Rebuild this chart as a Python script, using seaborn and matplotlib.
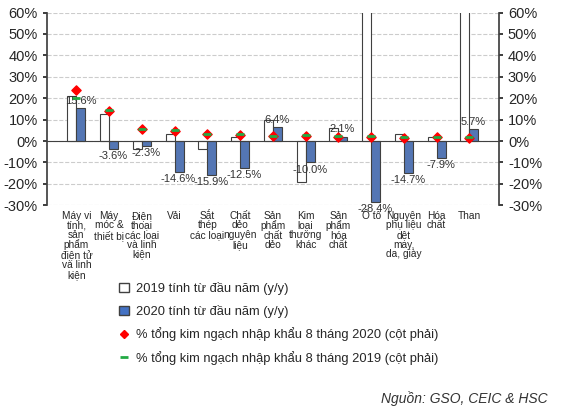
import matplotlib
matplotlib.use("Agg")
import matplotlib.pyplot as plt
import seaborn as sns
import pandas as pd
import numpy as np

sns.set_theme(style="white")
plt.rcParams['font.family'] = ['Liberation Sans', 'DejaVu Sans']

categories = ["Máy vi\ntính,\nsản\nphẩm\nđiện tử\nvà linh\nkiện", "Máy\nmóc &\nthiết bị",
              "Điện\nthoại\ncác loại\nvà linh\nkiện", "Vải", "Sắt\nthép\ncác loại",
              "Chất\ndẻo\nnguyên\nliệu", "Sản\nphẩm\nchất\ndẻo", "Kim\nloại\nthường\nkhác",
              "Sản\nphẩm\nhóa\nchất", "Ô tô", "Nguyên\nphụ liệu\ndệt\nmay,\nda, giày",
              "Hóa\nchất", "Than"]
ytd2019 = [21, 12.5, -3.5, 3.5, -3.5, 2, 10, -19, 6, 80, 3.5, 2, 100]
ytd2020 = [15.6, -3.6, -2.3, -14.6, -15.9, -12.5, 6.4, -10.0, 2.1, -28.4, -14.7, -7.9, 5.7]
share2020 = [24, 14, 5.5, 4.5, 3.5, 3, 2.5, 2.5, 2, 2, 1.5, 2, 1.5]
share2019 = [20, 14.5, 5.5, 5, 3.5, 3.5, 2.5, 3, 2.5, 2.5, 2, 2, 2]

lbl19 = "2019 tính từ đầu năm (y/y)"
lbl20 = "2020 tính từ đầu năm (y/y)"
df = pd.DataFrame({"cat": categories * 2, "val": ytd2019 + ytd2020,
                   "series": [lbl19] * 13 + [lbl20] * 13})

fig = plt.figure(figsize=(5.65, 4.19), dpi=100)
ax = fig.add_axes([0.083, 0.51, 0.8, 0.46])
sns.barplot(data=df, x="cat", y="val", hue="series", palette=["white", "#4472C4"],
            edgecolor="#404040", linewidth=0.8, width=0.55, ax=ax, legend=False)
ax.set_ylim(-30, 60)
ax.set_yticks(range(-30, 61, 10))
ax.yaxis.set_major_formatter(matplotlib.ticker.FuncFormatter(lambda v, p: f"{int(v)}%"))
ax.grid(axis="y", linestyle="--", color="#cccccc", linewidth=0.8)
ax.set_axisbelow(True)
ax.axhline(0, color="#404040", linewidth=0.8)
ax.set_xlabel(""); ax.set_ylabel("")
ax.tick_params(axis="x", labelsize=7.3, length=0, pad=4)
for t in ax.get_xticklabels():
    t.set_linespacing(0.95)
ax.tick_params(axis="y", labelsize=10.5, left=True, length=3)
for s in ["top", "bottom", "right"]:
    ax.spines[s].set_visible(False)
ax.spines["left"].set_color("#404040")

ax2 = ax.twinx()
ax2.set_ylim(-30, 60)
ax2.set_yticks(range(-30, 61, 10))
ax2.yaxis.set_major_formatter(matplotlib.ticker.FuncFormatter(lambda v, p: f"{int(v)}%"))
ax2.tick_params(axis="y", labelsize=10.5, right=True, length=3)
for s in ["top", "bottom", "left"]:
    ax2.spines[s].set_visible(False)
ax2.spines["right"].set_color("#404040")
x = np.arange(len(categories))
ax2.scatter(x, share2020, marker="D", color="red", s=22, zorder=5)
ax2.scatter(x, share2019, marker="_", color="#22aa44", s=40, linewidths=2, zorder=6)

for i, v in enumerate(ytd2020):
    y = v + 1 if v > 0 else v - 1
    ax.text(i + 0.12, y, f"{v:.1f}%", ha="center", va="bottom" if v > 0 else "top",
            fontsize=8, color="#333333")

from matplotlib.patches import Patch
from matplotlib.lines import Line2D
handles = [Patch(facecolor="white", edgecolor="#404040", label=lbl19),
           Patch(facecolor="#4472C4", edgecolor="#404040", label=lbl20),
           Line2D([], [], marker="D", color="red", linestyle="none", markersize=4,
                  label="% tổng kim ngạch nhập khẩu 8 tháng 2020 (cột phải)"),
           Line2D([], [], marker="_", color="#22aa44", linestyle="none", markersize=6,
                  markeredgewidth=2, label="% tổng kim ngạch nhập khẩu 8 tháng 2019 (cột phải)")]
fig.legend(handles=handles, loc="upper left", bbox_to_anchor=(0.19, 0.355), frameon=False,
           fontsize=9.3, handlelength=0.8, labelspacing=0.75, handletextpad=0.5)
fig.text(0.97, 0.03, "Nguồn: GSO, CEIC & HSC", ha="right", va="bottom",
         fontsize=10, style="italic", color="#333333")
fig.savefig("out.png", dpi=100)
